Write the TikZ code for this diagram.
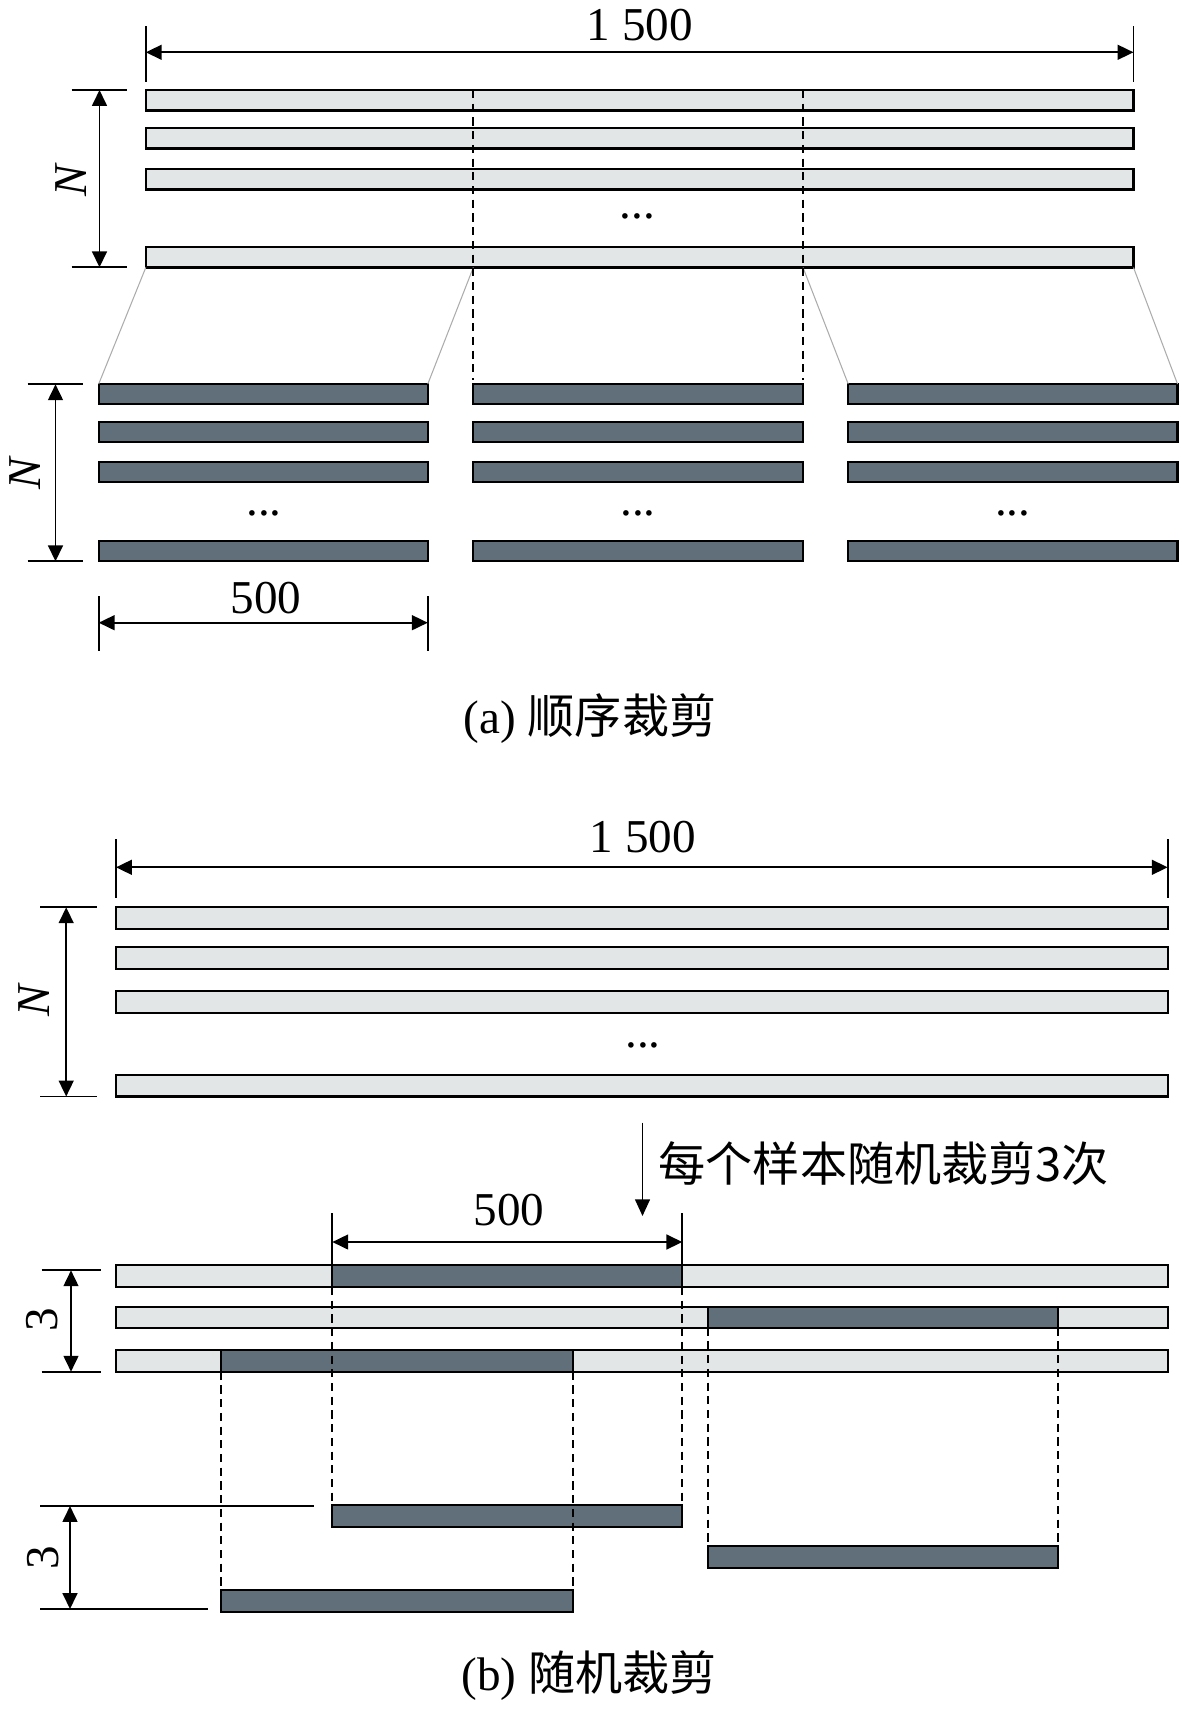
\documentclass[tikz,border=0pt]{standalone}
\usepackage{fontspec}
\setmainfont{Liberation Serif}
\newfontfamily\cjk{Noto Sans CJK SC}
\usetikzlibrary{arrows.meta,fit}
\definecolor{lightbar}{RGB}{226,230,230}
\definecolor{darkbar}{RGB}{96,111,121}
\begin{document}
\begin{tikzpicture}[x=0.01cm,y=-0.01cm,
  lbl/.style={inner sep=0pt,font=\fontsize{13.4pt}{16pt}\selectfont},
  lbar/.style={draw=black,fill=lightbar,line width=0.6pt,inner sep=0pt,outer sep=0pt},
  dbar/.style={draw=black,fill=darkbar,line width=0.6pt,inner sep=0pt,outer sep=0pt},
  dimline/.style={line width=0.55pt},
  dimarrow/.style={line width=0.55pt,{Triangle[length=4.5pt,width=4.2pt]}-{Triangle[length=4.5pt,width=4.2pt]}},
  cutline/.style={dash pattern=on 2.3pt off 1.6pt,line width=0.55pt},
  thinline/.style={gray!65,line width=0.3pt},
  downarrow/.style={line width=0.45pt,-{Triangle[length=4.7pt,width=4.2pt]}}
]
\useasboundingbox (0,0) rectangle (1181,1709);

% ================= (a) =================
\node[lbar,fit={(145.8,90) (1133.5,110.5)}] (T1) {};
\node[lbar,fit={(145.8,128) (1133.5,148.5)}] (T2) {};
\node[lbar,fit={(145.8,169) (1133.5,189.5)}] (T3) {};
\node[lbar,fit={(145.8,247) (1133.5,267.5)}] (T4) {};
\node[lbl] (dotsT) at (637.5,216) {...};

% lower crops, three columns
\node[dbar,fit={(98.7,384) (427.8,404)}] (L1) {};
\node[dbar,fit={(98.7,422) (427.8,442)}] (L2) {};
\node[dbar,fit={(98.7,462) (427.8,482)}] (L3) {};
\node[dbar,fit={(98.7,541) (427.8,561)}] (L4) {};
\node[dbar,fit={(473.3,384) (803,404)}] (M1) {};
\node[dbar,fit={(473.3,422) (803,442)}] (M2) {};
\node[dbar,fit={(473.3,462) (803,482)}] (M3) {};
\node[dbar,fit={(473.3,541) (803,561)}] (M4) {};
\node[dbar,fit={(848.2,384) (1177.5,404)}] (R1) {};
\node[dbar,fit={(848.2,422) (1177.5,442)}] (R2) {};
\node[dbar,fit={(848.2,462) (1177.5,482)}] (R3) {};
\node[dbar,fit={(848.2,541) (1177.5,561)}] (R4) {};
\node[lbl] (dotsL) at (264,513) {...};
\node[lbl] (dotsM) at (638,513) {...};
\node[lbl] (dotsR) at (1012.7,513) {...};

% thin connectors
\draw[thinline] (T4.south west) -- (L1.north west);
\draw[thinline] (M1.north west |- T4.south) -- (L1.north east);
\draw[thinline] (M1.north east |- T4.south) -- (R1.north west);
\draw[thinline] (T4.south east) -- (R1.north east);

% dashed cut lines
\draw[cutline] (M1.north west |- T1.north) -- ([yshift=1.2pt]M1.north west);
\draw[cutline] (M1.north east |- T1.north) -- ([yshift=1.2pt]M1.north east);

% top dimension 1 500
\coordinate (aE1t) at (145.8,26);  \coordinate (aE1b) at (145.8,81.7);
\coordinate (aE2t) at (1133.5,26); \coordinate (aE2b) at (1133.5,81.7);
\coordinate (aD1) at (145.8,52.3); \coordinate (aD2) at (1133.5,52.3);
\draw[dimline] (aE1t) -- (aE1b);
\draw[dimline] (aE2t) -- (aE2b);
\draw[dimarrow] (aD1) -- (aD2);
\node[lbl,anchor=base] (a1500) at (640,40.3) {1 500};

% N dimension (upper)
\coordinate (aN1a) at (71.6,90);    \coordinate (aN1b) at (127.4,90);
\coordinate (aN2a) at (71.6,267.3); \coordinate (aN2b) at (127.4,267.3);
\coordinate (aNt) at (99.5,90);     \coordinate (aNb) at (99.5,267.3);
\draw[dimline] (aN1a) -- (aN1b);
\draw[dimline] (aN2a) -- (aN2b);
\draw[dimarrow] (aNt) -- (aNb);
\node[lbl,rotate=90] (aN) at (70.8,180) {\textit{N}};

% N dimension (lower)
\coordinate (bN1a) at (27.5,384.3); \coordinate (bN1b) at (83.4,384.3);
\coordinate (bN2a) at (27.5,561.3); \coordinate (bN2b) at (83.4,561.3);
\coordinate (bNt) at (55.5,384.3);  \coordinate (bNb) at (55.5,561.3);
\draw[dimline] (bN1a) -- (bN1b);
\draw[dimline] (bN2a) -- (bN2b);
\draw[dimarrow] (bNt) -- (bNb);
\node[lbl,rotate=90] (aN2) at (25,473) {\textit{N}};

% 500 dimension
\coordinate (a5E1t) at (98.7,596);  \coordinate (a5E1b) at (98.7,651);
\coordinate (a5E2t) at (427.8,596); \coordinate (a5E2b) at (427.8,651);
\coordinate (a5D1) at (98.7,622.7); \coordinate (a5D2) at (427.8,622.7);
\draw[dimline] (a5E1t) -- (a5E1b);
\draw[dimline] (a5E2t) -- (a5E2b);
\draw[dimarrow] (a5D1) -- (a5D2);
\node[lbl,anchor=base] (a500) at (266,613) {500};

\node[lbl] (capa) at (590,719) {(a) {\cjk 顺序裁剪}};

% ================= (b) =================
\node[lbar,fit={(116,907.3) (1168,929)}] (P1) {};
\node[lbar,fit={(116,947) (1168,968.7)}] (P2) {};
\node[lbar,fit={(116,991) (1168,1013)}] (P3) {};
\node[lbar,fit={(116,1075) (1168,1096.5)}] (P4) {};
\node[lbl] (dotsP) at (643,1045) {...};

\coordinate (pE1t) at (116,839.3);    \coordinate (pE1b) at (116,898);
\coordinate (pE2t) at (1167.7,839.3); \coordinate (pE2b) at (1167.7,898);
\coordinate (pD1) at (116,867.3);     \coordinate (pD2) at (1167.7,867.3);
\draw[dimline] (pE1t) -- (pE1b);
\draw[dimline] (pE2t) -- (pE2b);
\draw[dimarrow] (pD1) -- (pD2);
\node[lbl,anchor=base] (b1500) at (643,852) {1 500};

\coordinate (pN1a) at (40,907.3);  \coordinate (pN1b) at (96.7,907.3);
\coordinate (pN2a) at (40,1096.5); \coordinate (pN2b) at (96.7,1096.5);
\coordinate (pNt) at (66.2,907.3); \coordinate (pNb) at (66.2,1096.5);
\draw[dimline] (pN1a) -- (pN1b);
\draw[dimline] (pN2a) -- (pN2b);
\draw[dimarrow] (pNt) -- (pNb);
\node[lbl,rotate=90] (bN) at (34.4,1000) {\textit{N}};

% arrow and note
\coordinate (arrT) at (642.5,1122.7);
\coordinate (arrB) at (642.5,1216);
\draw[downarrow] (arrT) -- (arrB);
\node[lbl,anchor=west] (note) at (658,1164) {\cjk 每个样本随机裁剪3次};

% samples with random crops
\node[lbar,fit={(116,1265.3) (1168,1287)}] (Q1) {};
\node[lbar,fit={(116,1306.7) (1168,1327.7)}] (Q2) {};
\node[lbar,fit={(116,1350) (1168,1371.7)}] (Q3) {};
\node[dbar,fit={(332.3,1265.3) (682.3,1287)}] (QD1) {};
\node[dbar,fit={(707.6,1306.7) (1058.3,1327.7)}] (QD2) {};
\node[dbar,fit={(221,1350) (573,1371.7)}] (QD3) {};

% 500 dimension (b)
\coordinate (q5E1t) at (332.3,1213);
\coordinate (q5E2t) at (682.3,1213);
\coordinate (q5D1) at (332.3,1242);
\coordinate (q5D2) at (682.3,1242);
\draw[dimline] (q5E1t) -- (QD1.north west);
\draw[dimline] (q5E2t) -- (QD1.north east);
\draw[dimarrow] (q5D1) -- (q5D2);
\node[lbl,anchor=base] (b500) at (509,1225) {500};

% 3 dimension (upper)
\coordinate (q3a1) at (41.7,1270.3); \coordinate (q3b1) at (101,1270.3);
\coordinate (q3a2) at (41.7,1371.7); \coordinate (q3b2) at (101,1371.7);
\coordinate (q3t) at (71,1270.3);    \coordinate (q3b) at (71,1371.7);
\draw[dimline] (q3a1) -- (q3b1);
\draw[dimline] (q3a2) -- (q3b2);
\draw[dimarrow] (q3t) -- (q3b);
\node[lbl,rotate=90] (three1) at (41.7,1320) {3};

% cropped pieces
\node[dbar,fit={(332.3,1505.3) (682.3,1527)}] (C1) {};
\node[dbar,fit={(707.6,1545.7) (1058.3,1567.7)}] (C2) {};
\node[dbar,fit={(221,1590) (573,1611.7)}] (C3) {};

% 3 dimension (lower)
\coordinate (c3a1) at (40,1506);  \coordinate (c3b1) at (313.8,1506);
\coordinate (c3a2) at (40,1609);  \coordinate (c3b2) at (207.7,1609);
\coordinate (c3t) at (70,1506);   \coordinate (c3b) at (70,1609);
\draw[dimline] (c3a1) -- (c3b1);
\draw[dimline] (c3a2) -- (c3b2);
\draw[dimarrow] (c3t) -- (c3b);
\node[lbl,rotate=90] (three2) at (43,1557.3) {3};

% dashed projections
\draw[cutline] (QD1.south west) -- (C1.north west);
\draw[cutline] (QD1.south east) -- (C1.north east);
\draw[cutline] (QD2.south west) -- (C2.north west);
\draw[cutline] (QD2.south east) -- (C2.north east);
\draw[cutline] (QD3.south west) -- (C3.north west);
\draw[cutline] (QD3.south east) -- (C3.north east);

\node[lbl] (capb) at (589,1676) {(b) {\cjk 随机裁剪}};
\end{tikzpicture}
\end{document}
